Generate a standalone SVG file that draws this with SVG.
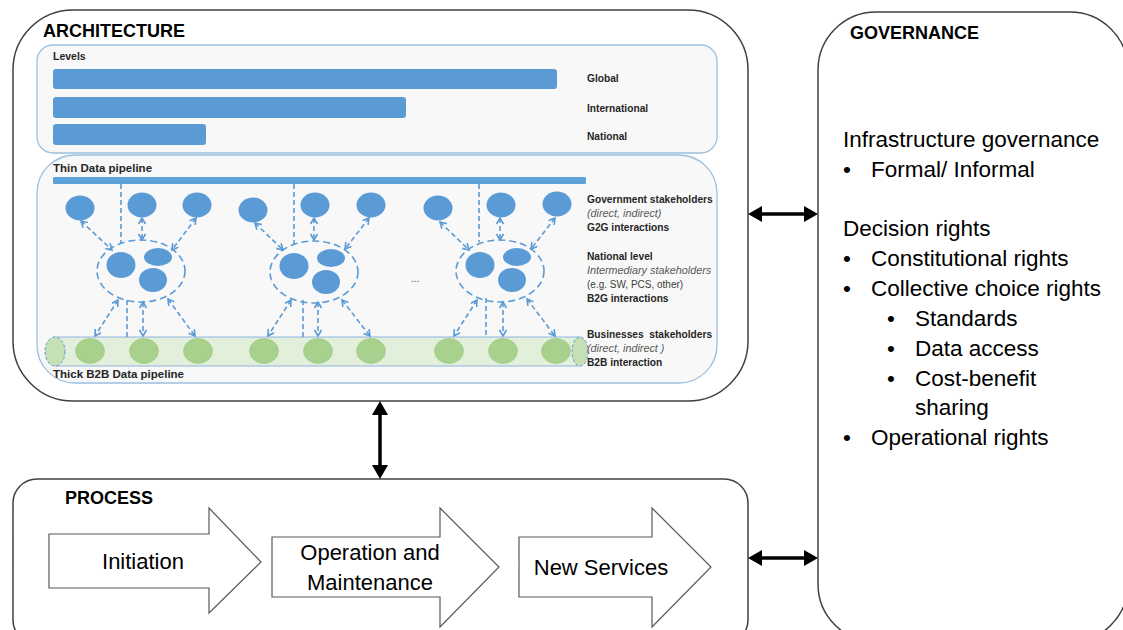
<svg xmlns="http://www.w3.org/2000/svg" width="1123" height="630" viewBox="0 0 1123 630">
<style>
.box{fill:#fff;stroke:#404040;stroke-width:1.5}
.panel{fill:#f8f8f8;stroke:#9dbfe0;stroke-width:1.3}
.bar{fill:#5b9bd5}
.gov{fill:#5b9bd5}
.bus{fill:#a9d18e;stroke:#9cc582;stroke-width:0.6}
.dash{fill:none;stroke:#5b9bd5;stroke-width:1.6;stroke-dasharray:5 3}
.dell{fill:none;stroke:#5b9bd5;stroke-width:1.6;stroke-dasharray:7 4}
.da{fill:none;stroke:#5b9bd5;stroke-width:1.6;stroke-dasharray:5 3;marker-start:url(#oh);marker-end:url(#oh)}
.blk{stroke:#000;stroke-width:3.5;marker-start:url(#bh);marker-end:url(#bh)}
.parrow{fill:#fff;stroke:#595959;stroke-width:1.2}
.t{font-family:"Liberation Sans",Arial,sans-serif;fill:#262626}
.h{font-weight:bold;font-size:18px;fill:#000}
.sb{font-weight:bold;font-size:10.2px}
.si{font-style:italic;font-size:10.8px;fill:#595959}
.sr{font-size:10px;fill:#404040}
.g{font-size:22.5px;fill:#000}
.p{font-size:22px;fill:#000;text-anchor:middle}
</style>
<defs>
<marker id="oh" markerUnits="userSpaceOnUse" markerWidth="10" markerHeight="10" refX="7" refY="4" orient="auto-start-reverse" viewBox="0 0 10 10">
<path d="M1,0.5 L7,4 L1,7.5" fill="none" stroke="#5b9bd5" stroke-width="1.6" stroke-dasharray="none"/>
</marker>
<marker id="bh" markerUnits="userSpaceOnUse" markerWidth="14" markerHeight="16" refX="0" refY="8" orient="auto-start-reverse" viewBox="0 0 14 16">
<path d="M0,0 L14,8 L0,16 Z" fill="#000"/>
</marker>
</defs>

<g id="architecture">
<rect class="box" x="13" y="10" width="735" height="391" rx="60"/>
<text class="t h" x="43" y="37">ARCHITECTURE</text>
</g>

<g id="levels">
<rect class="panel" x="37" y="45" width="680" height="108" rx="16"/>
<text class="t" x="53" y="60" font-size="10.5" font-weight="bold">Levels</text>
<rect class="bar" x="53" y="69" width="504" height="20" rx="3"/>
<rect class="bar" x="53" y="97" width="353" height="21" rx="3"/>
<rect class="bar" x="53" y="124" width="153" height="21" rx="3"/>
<text class="t sb" x="587" y="82">Global</text>
<text class="t sb" x="587" y="112">International</text>
<text class="t sb" x="587" y="140">National</text>
</g>

<g id="thin-pipeline">
<rect class="panel" x="37" y="155" width="680" height="228" rx="38"/>
<text class="t" x="53" y="172" font-size="11.5" font-weight="bold">Thin Data pipeline</text>
<rect x="53" y="177" width="533" height="7" rx="1.5" fill="#5ea1d8"/>
</g>

<g id="b2b-pipeline">
<rect x="55" y="337" width="525" height="29" fill="#e2efda" stroke="#8db3e2" stroke-width="1"/>
<ellipse cx="55" cy="351.5" rx="10" ry="14.5" fill="#c5e0b4" stroke="#5b9bd5" stroke-width="1" stroke-dasharray="3 2"/>
<ellipse cx="580" cy="351.5" rx="8" ry="14.5" fill="#c5e0b4" stroke="#5b9bd5" stroke-width="1" stroke-dasharray="3 2"/>
<text class="t" x="53" y="378" font-size="11.5" font-weight="bold">Thick B2B Data pipeline</text>
</g>

<g id="government-stakeholders">
<ellipse class="gov" cx="80" cy="208" rx="14.5" ry="12.5"/>
<ellipse class="gov" cx="142" cy="205" rx="14.5" ry="12.5"/>
<ellipse class="gov" cx="197" cy="205" rx="14.5" ry="12.5"/>
<ellipse class="gov" cx="253" cy="210" rx="14.5" ry="12.5"/>
<ellipse class="gov" cx="315" cy="205" rx="14.5" ry="12.5"/>
<ellipse class="gov" cx="371" cy="205" rx="14.5" ry="12.5"/>
<ellipse class="gov" cx="438" cy="208" rx="14.5" ry="12.5"/>
<ellipse class="gov" cx="501" cy="205" rx="14.5" ry="12.5"/>
<ellipse class="gov" cx="557" cy="204" rx="14.5" ry="12.5"/>
</g>

<g id="intermediary-1">
<ellipse class="dell" cx="141" cy="271" rx="44" ry="31"/>
<ellipse class="gov" cx="121" cy="265" rx="14.5" ry="13"/>
<ellipse class="gov" cx="158" cy="257" rx="14" ry="9"/>
<ellipse class="gov" cx="153" cy="280" rx="14" ry="12"/>
</g>
<g id="intermediary-2">
<ellipse class="dell" cx="314" cy="272" rx="44" ry="31"/>
<ellipse class="gov" cx="294" cy="266" rx="14.5" ry="13"/>
<ellipse class="gov" cx="331" cy="258" rx="14" ry="9"/>
<ellipse class="gov" cx="326" cy="282" rx="14" ry="12"/>
</g>
<g id="intermediary-3">
<ellipse class="dell" cx="500" cy="271" rx="44" ry="31"/>
<ellipse class="gov" cx="480" cy="265" rx="14.5" ry="13"/>
<ellipse class="gov" cx="517" cy="257" rx="14" ry="9"/>
<ellipse class="gov" cx="512" cy="280" rx="14" ry="12"/>
</g>

<g id="business-stakeholders">
<ellipse class="bus" cx="90" cy="351" rx="14.5" ry="12.5"/>
<ellipse class="bus" cx="144" cy="351" rx="14.5" ry="12.5"/>
<ellipse class="bus" cx="198" cy="351" rx="14.5" ry="12.5"/>
<ellipse class="bus" cx="264" cy="351" rx="14.5" ry="12.5"/>
<ellipse class="bus" cx="318" cy="351" rx="14.5" ry="12.5"/>
<ellipse class="bus" cx="371" cy="351" rx="14.5" ry="12.5"/>
<ellipse class="bus" cx="449" cy="351" rx="14.5" ry="12.5"/>
<ellipse class="bus" cx="503" cy="351" rx="14.5" ry="12.5"/>
<ellipse class="bus" cx="556" cy="351" rx="14.5" ry="12.5"/>
</g>

<g id="stakeholder-labels">
<text class="t sb" x="587" y="203">Government stakeholders</text>
<text class="t si" x="587" y="217">(direct, indirect)</text>
<text class="t sb" x="587" y="231">G2G interactions</text>
<text class="t sb" x="587" y="260">National level</text>
<text class="t si" x="587" y="274">Intermediary stakeholders</text>
<text class="t sr" x="587" y="288">(e.g. SW, PCS, other)</text>
<text class="t sb" x="587" y="302">B2G interactions</text>
<text class="t sb" x="587" y="338" style="white-space:pre">Businesses  stakeholders</text>
<text class="t si" x="587" y="352">(direct, indirect )</text>
<text class="t sb" x="587" y="366">B2B interaction</text>
<text class="t sr" x="411" y="282">...</text>
</g>

<g id="process">
<rect class="box" x="13" y="479" width="735" height="165" rx="24"/>
<text class="t h" x="65" y="504" font-size="17">PROCESS</text>
</g>
<g id="initiation">
<path class="parrow" d="M49,534 L209,534 L209,508 L261,562 L209,613 L209,588 L49,588 Z"/>
<text class="t p" x="143" y="569">Initiation</text>
</g>
<g id="operation">
<path class="parrow" d="M272,537 L440,537 L440,508 L499,567 L440,627 L440,597 L272,597 Z"/>
<text class="t p" x="370" y="560">Operation and</text>
<text class="t p" x="370" y="590">Maintenance</text>
</g>
<g id="new-services">
<path class="parrow" d="M519,537 L652,537 L652,508 L711,567 L652,627 L652,597 L519,597 Z"/>
<text class="t p" x="601" y="575">New Services</text>
</g>

<g id="governance">
<rect class="box" x="818" y="12" width="310" height="630" rx="58"/>
<text class="t h" x="850" y="39">GOVERNANCE</text>
<text class="t g" x="843" y="147">Infrastructure governance</text>
<text class="t g" x="843" y="177">•</text><text class="t g" x="871" y="177">Formal/ Informal</text>
<text class="t g" x="843" y="236">Decision rights</text>
<text class="t g" x="843" y="266">•</text><text class="t g" x="871" y="266">Constitutional rights</text>
<text class="t g" x="843" y="296">•</text><text class="t g" x="871" y="296">Collective choice rights</text>
<text class="t g" x="887" y="326">•</text><text class="t g" x="915" y="326">Standards</text>
<text class="t g" x="887" y="356">•</text><text class="t g" x="915" y="356">Data access</text>
<text class="t g" x="887" y="386">•</text><text class="t g" x="915" y="386">Cost-benefit</text>
<text class="t g" x="915" y="415">sharing</text>
<text class="t g" x="843" y="445">•</text><text class="t g" x="871" y="445">Operational rights</text>
</g>

<g id="connectors">
<line class="dash" x1="121" y1="184" x2="121" y2="244"/>
<line class="dash" x1="294" y1="184" x2="294" y2="245"/>
<line class="dash" x1="479" y1="184" x2="479" y2="242"/>
<line class="da" x1="81" y1="221" x2="112" y2="250"/>
<line class="da" x1="142" y1="218" x2="142" y2="240"/>
<line class="da" x1="196" y1="218" x2="172" y2="250"/>
<line class="da" x1="118" y1="300" x2="95" y2="336"/>
<line class="dash" x1="127" y1="300" x2="127" y2="337"/>
<line class="da" x1="143" y1="302" x2="143" y2="336"/>
<line class="da" x1="168" y1="299" x2="195" y2="336"/>
<line class="da" x1="255" y1="223" x2="283" y2="250"/>
<line class="da" x1="314" y1="218" x2="314" y2="240"/>
<line class="da" x1="369" y1="218" x2="345" y2="249"/>
<line class="da" x1="291" y1="300" x2="268" y2="336"/>
<line class="dash" x1="303" y1="300" x2="303" y2="337"/>
<line class="da" x1="318" y1="302" x2="318" y2="336"/>
<line class="da" x1="342" y1="300" x2="370" y2="336"/>
<line class="da" x1="440" y1="222" x2="469" y2="250"/>
<line class="da" x1="500" y1="218" x2="500" y2="240"/>
<line class="da" x1="555" y1="218" x2="531" y2="249"/>
<line class="da" x1="477" y1="300" x2="454" y2="336"/>
<line class="dash" x1="486" y1="298" x2="486" y2="337"/>
<line class="da" x1="503" y1="302" x2="503" y2="336"/>
<line class="da" x1="527" y1="299" x2="555" y2="336"/>
<line class="blk" x1="380" y1="415" x2="380" y2="465"/>
<line class="blk" x1="762" y1="214" x2="804" y2="214"/>
<line class="blk" x1="762" y1="558" x2="804" y2="558"/>
</g>
</svg>
